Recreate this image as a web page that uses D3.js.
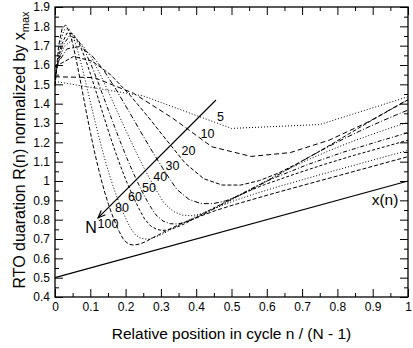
<!DOCTYPE html>
<html>
<head>
<meta charset="utf-8">
<script src="https://cdn.jsdelivr.net/npm/d3@7"></script>
<style>
  body { margin: 0; background: #fff; }
  svg { display: block; }
  text { font-family: "Liberation Sans", Arial, Helvetica, sans-serif; fill: #000; }
</style>
</head>
<body>
<svg id="chart" width="413" height="348"></svg>
<script>
// Cycle lengths N, one RTO curve each
const cycleLengths = [5, 10, 20, 30, 40, 50, 60, 80, 100];

// RTO duration R(n)/x_max, as [sample index n, value]; x position is n / (N - 1)
const rto5 = [[0, 1.515], [1, 1.44], [2, 1.272], [3, 1.292], [4, 1.436]];
const rto10 = [[0, 1.539], [1, 1.535], [2, 1.454], [3, 1.325], [4, 1.177], [5, 1.127],
  [6, 1.147], [7, 1.212], [8, 1.307], [9, 1.421]];
const rto20 = [[0, 1.591], [1, 1.644], [2, 1.620], [3, 1.549], [4, 1.448], [5, 1.333],
  [6, 1.212], [7, 1.093], [8, 1.012], [9, 0.979], [10, 0.979], [11, 1.002], [12, 1.040],
  [13, 1.088], [14, 1.141], [15, 1.197], [16, 1.254], [17, 1.311], [18, 1.366], [19, 1.420]];
const rto30 = [[0, 1.588], [1, 1.684], [2, 1.695], [3, 1.651], [4, 1.573], [5, 1.475],
  [6, 1.368], [7, 1.259], [8, 1.152], [9, 1.051], [10, 0.957], [11, 0.905], [12, 0.883],
  [13, 0.883], [14, 0.897], [15, 0.921], [16, 0.951], [17, 0.985], [18, 1.020], [19, 1.056],
  [20, 1.092], [21, 1.128], [22, 1.162], [23, 1.195], [24, 1.227], [25, 1.257], [26, 1.286],
  [27, 1.314], [28, 1.341], [29, 1.367]];
const rto40 = [[0, 1.568], [1, 1.696], [2, 1.732], [3, 1.705], [4, 1.640], [5, 1.551],
  [6, 1.451], [7, 1.347], [8, 1.244], [9, 1.145], [10, 1.052], [11, 0.967], [12, 0.889],
  [13, 0.844], [14, 0.824], [15, 0.820], [16, 0.828], [17, 0.844], [18, 0.865], [19, 0.889],
  [20, 0.914], [21, 0.941], [22, 0.967], [23, 0.993], [24, 1.018], [25, 1.043], [26, 1.066],
  [27, 1.089], [28, 1.111], [29, 1.131], [30, 1.151], [31, 1.170], [32, 1.189], [33, 1.207],
  [34, 1.224], [35, 1.241], [36, 1.257], [37, 1.273], [38, 1.288], [39, 1.304]];
const rto50 = [[0, 1.544], [1, 1.696], [2, 1.750], [3, 1.738], [4, 1.684], [5, 1.603],
  [6, 1.509], [7, 1.408], [8, 1.307], [9, 1.209], [10, 1.116], [11, 1.031], [12, 0.952],
  [13, 0.882], [14, 0.825], [15, 0.793], [16, 0.779], [17, 0.778], [18, 0.786], [19, 0.799],
  [20, 0.816], [21, 0.835], [22, 0.855], [23, 0.876], [24, 0.896], [25, 0.917], [26, 0.936],
  [27, 0.955], [28, 0.974], [29, 0.992], [30, 1.009], [35, 1.084], [40, 1.149], [45, 1.206],
  [49, 1.250]];
const rto60 = [[0, 1.530], [1, 1.699], [2, 1.765], [3, 1.762], [4, 1.714], [5, 1.638],
  [6, 1.547], [7, 1.449], [8, 1.349], [9, 1.251], [10, 1.159], [11, 1.073], [12, 0.994],
  [13, 0.923], [14, 0.859], [15, 0.802], [16, 0.767], [17, 0.750], [18, 0.744], [19, 0.748],
  [20, 0.757], [21, 0.769], [22, 0.784], [23, 0.801], [24, 0.818], [25, 0.835], [26, 0.852],
  [27, 0.868], [28, 0.884], [29, 0.900], [30, 0.915], [32, 0.943], [35, 0.981], [40, 1.035],
  [45, 1.086], [50, 1.133], [59, 1.211]];
const rto80 = [[0, 1.506], [1, 1.698], [2, 1.781], [3, 1.790], [4, 1.751], [5, 1.681],
  [6, 1.594], [7, 1.498], [8, 1.400], [9, 1.304], [10, 1.212], [11, 1.125], [12, 1.046],
  [13, 0.973], [14, 0.908], [15, 0.850], [16, 0.798], [17, 0.752], [18, 0.722], [19, 0.706],
  [20, 0.700], [21, 0.700], [22, 0.706], [23, 0.715], [24, 0.725], [25, 0.737], [26, 0.750],
  [27, 0.762], [28, 0.775], [29, 0.787], [30, 0.799], [32, 0.822], [35, 0.853], [40, 0.897],
  [45, 0.936], [50, 0.971], [60, 1.037], [70, 1.101], [79, 1.158]];
const rto100 = [[0, 1.491], [1, 1.697], [2, 1.790], [3, 1.807], [4, 1.773], [5, 1.708],
  [6, 1.623], [7, 1.529], [8, 1.432], [9, 1.336], [10, 1.244], [11, 1.157], [12, 1.078],
  [13, 1.005], [14, 0.938], [15, 0.879], [16, 0.827], [17, 0.780], [18, 0.739], [19, 0.704],
  [20, 0.683], [21, 0.672], [22, 0.669], [23, 0.671], [24, 0.676], [25, 0.683], [26, 0.692],
  [27, 0.702], [28, 0.712], [29, 0.721], [30, 0.731], [32, 0.750], [35, 0.776], [40, 0.813],
  [45, 0.847], [50, 0.876], [60, 0.929], [70, 0.980], [80, 1.030], [99, 1.126]];
const rtoSeries = [rto5, rto10, rto20, rto30, rto40, rto50, rto60, rto80, rto100];

// Sample duration x(n)/x_max over one cycle
const sampleLine = [[0, 0.5], [1, 1.0]];

// Axis ticks
const xTicks = [0, 0.1, 0.2, 0.3, 0.4, 0.5, 0.6, 0.7, 0.8, 0.9, 1];
const xTickLabels = ["0", "0.1", "0.2", "0.3", "0.4", "0.5", "0.6", "0.7", "0.8", "0.9", "1"];
const xMinorTicks = [0.05, 0.15, 0.25, 0.35, 0.45, 0.55, 0.65, 0.75, 0.85, 0.95];
const yTicks = [0.4, 0.5, 0.6, 0.7, 0.8, 0.9, 1, 1.1, 1.2, 1.3, 1.4, 1.5, 1.6, 1.7, 1.8, 1.9];
const yTickLabels = ["0.4", "0.5", "0.6", "0.7", "0.8", "0.9", "1", "1.1", "1.2", "1.3",
  "1.4", "1.5", "1.6", "1.7", "1.8", "1.9"];
const yMinorTicks = [0.45, 0.55, 0.65, 0.75, 0.85, 0.95, 1.05, 1.15, 1.25, 1.35, 1.45,
  1.55, 1.65, 1.75, 1.85];

// ---- drawing ----
const svg = d3.select("#chart");
const frame = { left: 55, right: 408, top: 7, bottom: 297 };
const x = d3.scaleLinear().domain([0, 1]).range([frame.left, frame.right]);
const y = d3.scaleLinear().domain([0.4, 1.9]).range([frame.bottom, frame.top]);

const dashes = ["1,2", "5,3", "4,2", "5,2,1,2", "1,2", "4,2,1,2", "3,2", "1,2", "4,2"];

const plot = svg.append("g");

rtoSeries.forEach((pts, i) => {
  const N = cycleLengths[i];
  const line = d3.line()
    .x(d => x(d[0] / (N - 1)))
    .y(d => y(d[1]));
  plot.append("path")
    .attr("d", line(pts))
    .attr("fill", "none")
    .attr("stroke", "#000")
    .attr("stroke-width", 1)
    .attr("stroke-dasharray", dashes[i]);
});

plot.append("path")
  .attr("d", d3.line().x(d => x(d[0])).y(d => y(d[1]))(sampleLine))
  .attr("fill", "none")
  .attr("stroke", "#000")
  .attr("stroke-width", 1.2);

// Arrow showing the direction of growing N
const arrowTail = [0.456, 1.419], arrowHead = [0.122, 0.809];
const tx = x(arrowTail[0]), ty = y(arrowTail[1]);
const hx = x(arrowHead[0]), hy = y(arrowHead[1]);
plot.append("line")
  .attr("x1", tx).attr("y1", ty).attr("x2", hx).attr("y2", hy)
  .attr("stroke", "#000").attr("stroke-width", 1.2);
const ang = Math.atan2(hy - ty, hx - tx);
const headLen = 8, spread = 0.38;
const wing = s => [hx - headLen * Math.cos(ang + s), hy - headLen * Math.sin(ang + s)];
const w1 = wing(spread), w2 = wing(-spread);
plot.append("path")
  .attr("d", `M${w1[0]},${w1[1]}L${hx},${hy}L${w2[0]},${w2[1]}`)
  .attr("fill", "none").attr("stroke", "#000").attr("stroke-width", 1.2);

// N labels beside the arrow
const labelSpots = [[0.469, 1.334], [0.432, 1.247], [0.378, 1.157], [0.333, 1.079],
  [0.298, 1.022], [0.266, 0.967], [0.2266, 0.917], [0.1898, 0.860], [0.150, 0.778]];
cycleLengths.forEach((N, i) => {
  plot.append("text")
    .attr("x", x(labelSpots[i][0]))
    .attr("y", y(labelSpots[i][1]))
    .attr("dy", "0.35em")
    .attr("text-anchor", "middle")
    .attr("font-size", 12.5)
    .text(N);
});
plot.append("text")
  .attr("x", x(0.102)).attr("y", y(0.762)).attr("dy", "0.35em")
  .attr("text-anchor", "middle").attr("font-size", 16)
  .text("N");
plot.append("text")
  .attr("x", x(0.935)).attr("y", y(0.902)).attr("dy", "0.35em")
  .attr("text-anchor", "middle").attr("font-size", 15.5)
  .text("x(n)");

// Axes: inward ticks on all four sides
function styleAxis(g) {
  g.select(".domain").remove();
  g.selectAll(".tick line").attr("stroke", "#000").attr("stroke-width", 1);
  g.selectAll(".tick text").attr("font-size", 12).attr("fill", "#000");
  g.attr("font-family", null).attr("font-size", null);
}
svg.append("g").attr("transform", `translate(0,${frame.bottom})`)
  .call(d3.axisBottom(x).tickValues(xTicks).tickSize(-8).tickPadding(5)
    .tickFormat((d, i) => xTickLabels[i]))
  .call(styleAxis);
svg.append("g").attr("transform", `translate(0,${frame.bottom})`)
  .call(d3.axisBottom(x).tickValues(xMinorTicks).tickSize(-4).tickFormat(""))
  .call(styleAxis);
svg.append("g").attr("transform", `translate(0,${frame.top})`)
  .call(d3.axisTop(x).tickValues(xTicks).tickSize(-8).tickFormat(""))
  .call(styleAxis);
svg.append("g").attr("transform", `translate(0,${frame.top})`)
  .call(d3.axisTop(x).tickValues(xMinorTicks).tickSize(-4).tickFormat(""))
  .call(styleAxis);
svg.append("g").attr("transform", `translate(${frame.left},0)`)
  .call(d3.axisLeft(y).tickValues(yTicks).tickSize(-8).tickPadding(5)
    .tickFormat((d, i) => yTickLabels[i]))
  .call(styleAxis);
svg.append("g").attr("transform", `translate(${frame.left},0)`)
  .call(d3.axisLeft(y).tickValues(yMinorTicks).tickSize(-4).tickFormat(""))
  .call(styleAxis);
svg.append("g").attr("transform", `translate(${frame.right},0)`)
  .call(d3.axisRight(y).tickValues(yTicks).tickSize(-8).tickFormat(""))
  .call(styleAxis);
svg.append("g").attr("transform", `translate(${frame.right},0)`)
  .call(d3.axisRight(y).tickValues(yMinorTicks).tickSize(-4).tickFormat(""))
  .call(styleAxis);

svg.append("rect")
  .attr("x", frame.left).attr("y", frame.top)
  .attr("width", frame.right - frame.left).attr("height", frame.bottom - frame.top)
  .attr("fill", "none").attr("stroke", "#000").attr("stroke-width", 1.3);

// Axis titles
svg.append("text")
  .attr("x", (frame.left + frame.right) / 2).attr("y", 339)
  .attr("text-anchor", "middle").attr("font-size", 15.5)
  .text("Relative position in cycle n / (N - 1)");

const yTitle = svg.append("text")
  .attr("transform", `translate(25,150) rotate(-90)`)
  .attr("text-anchor", "middle").attr("font-size", 16);
yTitle.append("tspan").text("RTO duaration R(n) normalized by x");
yTitle.append("tspan").attr("font-size", 11).attr("dy", 4).text("max");
</script>
</body>
</html>
